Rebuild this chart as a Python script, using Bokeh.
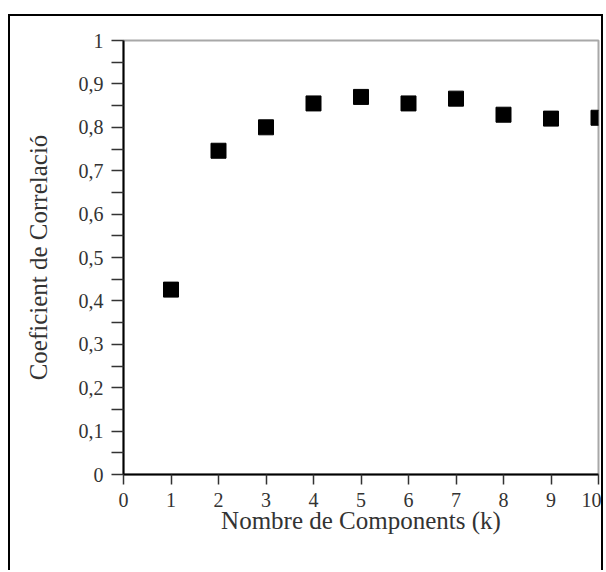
from bokeh.plotting import figure
from bokeh.embed import file_html
from bokeh.resources import INLINE
from bokeh.models import FixedTicker, ColumnDataSource, Range1d

# data
components = [1, 2, 3, 4, 5, 6, 7, 8, 9, 10]
correlation = [0.426, 0.746, 0.800, 0.855, 0.870, 0.855, 0.866, 0.829, 0.820, 0.822]

x_ticks = [0, 1, 2, 3, 4, 5, 6, 7, 8, 9, 10]
y_ticks = [0, 0.1, 0.2, 0.3, 0.4, 0.5, 0.6, 0.7, 0.8, 0.9, 1]
y_tick_labels = ["0", "0,1", "0,2", "0,3", "0,4", "0,5", "0,6", "0,7", "0,8", "0,9", "1"]
y_minor = [0.05, 0.15, 0.25, 0.35, 0.45, 0.55, 0.65, 0.75, 0.85, 0.95]

x_title = "Nombre de Components (k)"
y_title = "Coeficient de Correlació"

FONT = "Liberation Serif"

p = figure(width=595, height=556, output_backend="svg", toolbar_location=None,
           x_range=Range1d(0, 10), y_range=Range1d(0, 1),
           min_border_left=113, min_border_right=7, min_border_top=24, min_border_bottom=98)
p.margin = (14, 0, 0, 8)
p.styles = {"border-top": "2px solid black", "border-left": "2px solid black",
            "border-right": "2px solid black"}

src = ColumnDataSource(dict(x=components, y=correlation))
p.scatter("x", "y", source=src, marker="square", size=15, fill_color="black", line_color="black")

p.grid.visible = False
p.outline_line_color = "#a8a8a8"
p.outline_line_width = 2
p.background_fill_color = "white"
p.border_fill_color = "white"

xa = p.xaxis[0]
xa.ticker = FixedTicker(ticks=x_ticks)
xa.axis_line_color = "black"
xa.axis_line_width = 2
xa.major_tick_in = 0
xa.major_tick_out = 10
xa.major_tick_line_width = 1.5
xa.major_tick_line_color = "#333333"
xa.minor_tick_line_color = None
xa.major_label_text_font = FONT
xa.major_label_text_font_size = "20px"
xa.major_label_text_color = "#333333"
xa.major_label_standoff = 8
xa.axis_label = x_title
xa.axis_label_text_font = FONT
xa.axis_label_text_font_size = "25px"
xa.axis_label_text_font_style = "normal"
xa.axis_label_text_color = "#333333"
xa.axis_label_standoff = -3

ya = p.yaxis[0]
ya.ticker = FixedTicker(ticks=y_ticks, minor_ticks=y_minor)
ya.major_label_overrides = {t: l for t, l in zip(y_ticks, y_tick_labels)}
ya.axis_line_color = "black"
ya.axis_line_width = 2
ya.major_tick_in = 0
ya.major_tick_out = 12
ya.minor_tick_in = 0
ya.minor_tick_out = 12
ya.major_tick_line_width = 1.5
ya.minor_tick_line_width = 1.5
ya.major_tick_line_color = "#333333"
ya.minor_tick_line_color = "#333333"
ya.major_label_text_font = FONT
ya.major_label_text_font_size = "20px"
ya.major_label_text_color = "#333333"
ya.major_label_standoff = 8
ya.axis_label = y_title
ya.axis_label_text_font = FONT
ya.axis_label_text_font_size = "25px"
ya.axis_label_text_font_style = "normal"
ya.axis_label_text_color = "#333333"
ya.axis_label_standoff = 24

open("out.html", "w").write(file_html(p, INLINE))
